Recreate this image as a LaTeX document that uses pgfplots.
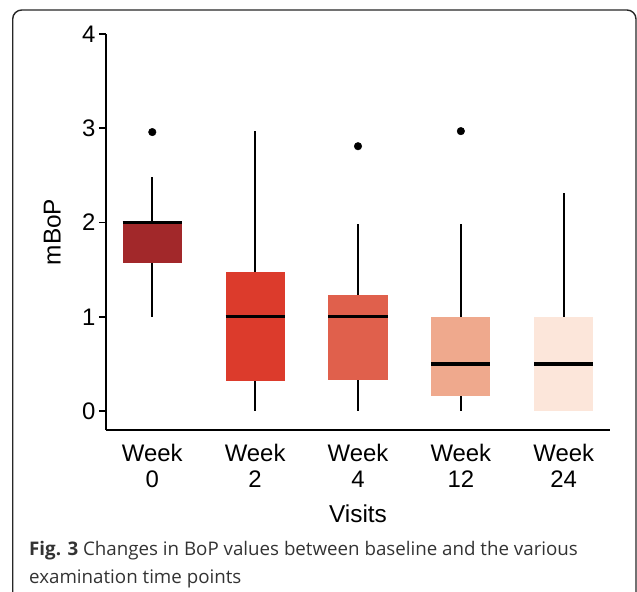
\documentclass[border=0pt]{standalone}
\usepackage{pgfplots}
\pgfplotsset{compat=1.18}
\usepgfplotslibrary{statistics}
\usepackage{fontspec}
\setmainfont{Liberation Sans}
\newfontfamily\capfont{Open Sans}

\definecolor{wk0}{HTML}{A2282A}
\definecolor{wk2}{HTML}{DC3B2C}
\definecolor{wk4}{HTML}{E0604C}
\definecolor{wk12}{HTML}{EFA98D}
\definecolor{wk24}{HTML}{FCE6DA}
\definecolor{captext}{HTML}{333333}

\pgfplotsset{
  bop box/.style={
    black, line width=1.5bp,
    boxplot/draw direction=y,
    boxplot/box extend=0.575,
    boxplot/whisker extend=0,
    boxplot/every box/.style={draw=none, fill=#1},
    boxplot/every median/.style={draw=black, line width=3.2bp},
    boxplot/every whisker/.style={draw=black, line width=1.7bp},
    mark=*, mark size=3.8bp,
    mark options={fill=black, draw=black, line width=0.4bp},
  },
}

\begin{document}
\begin{tikzpicture}
\path[use as bounding box] (0,0) rectangle (637bp,-592bp);
% frame round figure and caption (cut off at the bottom)
\draw[line width=1.4bp, black!85, rounded corners=9bp]
  (12.7bp,-600bp) -- (12.7bp,-10bp) -- (636bp,-10bp) -- (636bp,-600bp);

\begin{axis}[
  at={(106bp,-430bp)}, anchor=south west,
  scale only axis, width=504bp, height=396bp,
  xmin=-0.45, xmax=4.45, ymin=-0.2, ymax=4,
  axis x line*=bottom, axis y line*=left,
  axis line style={line width=1.6bp, -},
  ytick={0,1,2,3,4},
  xtick={0,1,2,3,4},
  xticklabels={{Week\\0},{Week\\2},{Week\\4},{Week\\12},{Week\\24}},
  xtick style={draw=none},
  ytick style={line width=1.6bp, black},
  tick align=outside, major tick length=7bp,
  /pgf/number format/assume math mode=true,
  yticklabel style={font=\fontsize{24}{26}\selectfont},
  xticklabel style={font=\fontsize{24}{26}\selectfont, align=center, yshift=-4bp},
  xlabel={Visits}, ylabel={mBoP},
  every axis x label/.style={at={(axis description cs:0.5,-0.234)}, anchor=base,
    font=\fontsize{24.5}{26}\selectfont},
  every axis y label/.style={at={(axis description cs:-0.09,0.5)}, rotate=90, anchor=base,
    font=\fontsize{24.5}{26}\selectfont},
  clip=false,
]
\addplot[bop box=wk0, boxplot prepared={draw position=0,
  lower whisker=1, lower quartile=1.57, median=2, upper quartile=2, upper whisker=2.48}]
  table[row sep=\\, y index=0] {y\\2.96\\};
\addplot[bop box=wk2, boxplot prepared={draw position=1,
  lower whisker=0, lower quartile=0.32, median=1, upper quartile=1.48, upper whisker=2.97}]
  coordinates {};
\addplot[bop box=wk4, boxplot prepared={draw position=2,
  lower whisker=0, lower quartile=0.33, median=1, upper quartile=1.23, upper whisker=1.98}]
  table[row sep=\\, y index=0] {y\\2.81\\};
\addplot[bop box=wk12, boxplot prepared={draw position=3,
  lower whisker=0, lower quartile=0.16, median=0.5, upper quartile=1, upper whisker=1.98}]
  table[row sep=\\, y index=0] {y\\2.97\\};
\addplot[bop box=wk24, boxplot prepared={draw position=4,
  lower whisker=0, lower quartile=0, median=0.5, upper quartile=1, upper whisker=2.31}]
  coordinates {};
\end{axis}

% caption
\node[anchor=base west, inner sep=0pt, text=captext, font=\capfont\fontsize{18.8}{29}\selectfont]
  at (29bp,-555bp) {\textbf{Fig. 3} Changes in BoP values between baseline and the various};
\node[anchor=base west, inner sep=0pt, text=captext, font=\capfont\fontsize{18.8}{29}\selectfont]
  at (29bp,-583bp) {examination time points};
\end{tikzpicture}
\end{document}
